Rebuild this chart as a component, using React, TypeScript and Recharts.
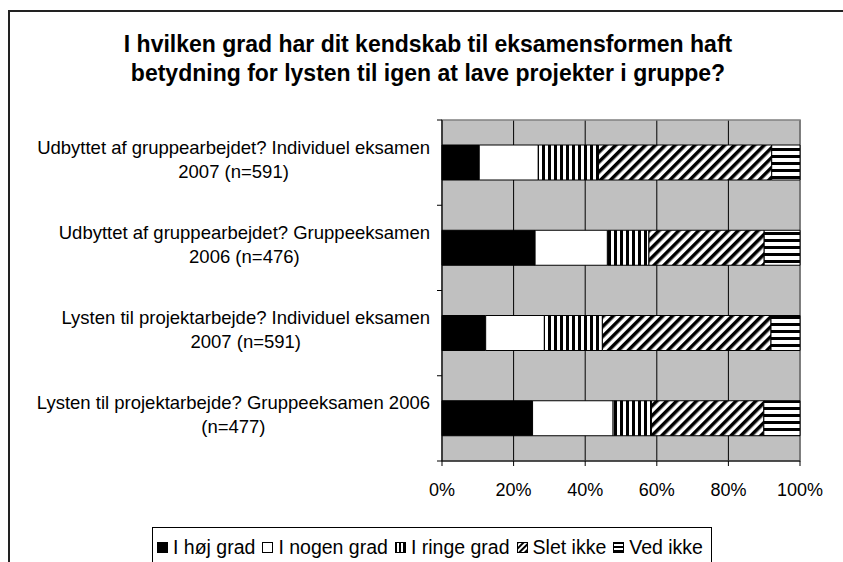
import React from "react";
import {
  BarChart,
  Bar,
  XAxis,
  YAxis,
  CartesianGrid,
  ReferenceArea,
} from "recharts";

if (typeof document !== "undefined") {
  document.documentElement.style.overflow = "hidden";
  document.body.style.overflow = "hidden";
}

const titleLines = [
  "I hvilken grad har dit kendskab til eksamensformen haft",
  "betydning for lysten til igen at lave projekter i gruppe?",
];

const categoryLines: string[][] = [
  ["Udbyttet af gruppearbejdet? Individuel eksamen", "2007 (n=591)"],
  ["Udbyttet af gruppearbejdet? Gruppeeksamen", "2006 (n=476)"],
  ["Lysten til projektarbejde? Individuel eksamen", "2007 (n=591)"],
  ["Lysten til projektarbejde? Gruppeeksamen 2006", "(n=477)"],
];

const seriesNames = ["I høj grad", "I nogen grad", "I ringe grad", "Slet ikke", "Ved ikke"];
const hojGrad = [10.4, 26.0, 12.2, 25.3];
const nogenGrad = [16.5, 20.2, 16.4, 22.5];
const ringeGrad = [16.8, 11.6, 16.2, 10.7];
const sletIkke = [48.4, 32.2, 47.1, 31.4];
const vedIkke = [7.9, 10.0, 8.1, 10.1];
const xTicks = [0, 20, 40, 60, 80, 100];

const seriesValues = [hojGrad, nogenGrad, ringeGrad, sletIkke, vedIkke];
const seriesKeys = ["s0", "s1", "s2", "s3", "s4"];
const seriesFills = [
  "#000000",
  "#ffffff",
  "url(#patVert)",
  "url(#patDiag)",
  "url(#patHoriz)",
];

const data = categoryLines.map((lines, i) => {
  const row: Record<string, any> = { name: lines.join(" ") };
  seriesKeys.forEach((k, j) => {
    row[k] = seriesValues[j][i];
  });
  return row;
});

const PAGE_W = 843;
const PAGE_H = 562;
const W = 835;
const H = 554;
const M = { top: 112, right: 43, bottom: 61, left: 0 };
const Y_AXIS_W = 434;
const X_AXIS_H = 40;
const PLOT_H = H - M.top - M.bottom - X_AXIS_H;
const BAND = PLOT_H / categoryLines.length;

const FONT = '"Liberation Sans", Arial, sans-serif';
const LABEL_FS = 18.5;

let measureCtx: CanvasRenderingContext2D | null = null;
function textWidth(s: string, fs: number): number {
  if (!measureCtx) {
    const c = document.createElement("canvas");
    measureCtx = c.getContext("2d");
  }
  if (!measureCtx) return s.length * fs * 0.5;
  measureCtx.font = `${fs}px "Liberation Sans"`;
  return measureCtx.measureText(s).width;
}

const YTick = (props: any) => {
  const { x, y, index } = props;
  const lines = categoryLines[index] || [];
  const maxW = Math.max(...lines.map((l) => textWidth(l, LABEL_FS)));
  const cx = x - 12 - maxW / 2;
  const topY = y - BAND / 2;
  const botY = y + BAND / 2;
  return (
    <g>
      <line x1={x - 5} x2={x} y1={topY} y2={topY} stroke="#000" strokeWidth={1} />
      {index === categoryLines.length - 1 && (
        <line x1={x - 5} x2={x} y1={botY} y2={botY} stroke="#000" strokeWidth={1} />
      )}
      <text
        x={cx}
        textAnchor="middle"
        fontFamily={FONT}
        fontSize={LABEL_FS}
        fill="#000"
      >
        {lines.map((l, i) => (
          <tspan key={i} x={cx} y={y - 9 + i * 24}>
            {l}
          </tspan>
        ))}
      </text>
    </g>
  );
};

const LegendIcon = ({ fill }: { fill: string }) => (
  <svg width={11} height={11} style={{ display: "block" }}>
    <defs>
      <pattern id="lgVert" width="4" height="4" patternUnits="userSpaceOnUse">
        <rect width="4" height="4" fill="#fff" />
        <rect width="2" height="4" fill="#000" />
      </pattern>
      <pattern id="lgDiag" width="4" height="4" patternUnits="userSpaceOnUse" patternTransform="rotate(45)">
        <rect width="4" height="4" fill="#fff" />
        <rect width="2" height="4" fill="#000" />
      </pattern>
      <pattern id="lgHoriz" width="4" height="4" patternUnits="userSpaceOnUse">
        <rect width="4" height="4" fill="#fff" />
        <rect width="4" height="2" fill="#000" />
      </pattern>
    </defs>
    <rect x={0.5} y={0.5} width={10} height={10} fill={fill.replace("#pat", "#lg")} stroke="#000" strokeWidth={1} />
  </svg>
);

export default function App() {
  return (
    <div
      style={{
        position: "fixed",
        left: 0,
        top: 0,
        width: PAGE_W,
        height: PAGE_H,
        overflow: "hidden",
        background: "#fff",
        fontFamily: FONT,
      }}
    >
      <style>{`svg:focus, svg:focus-visible, .recharts-surface:focus, .recharts-wrapper:focus, *:focus { outline: none !important; }`}</style>
      <div style={{ position: "absolute", left: 8, top: 10, width: PAGE_W - 8, height: 2, background: "#222" }} />
      <div style={{ position: "absolute", left: 8, top: 10, width: 2, height: PAGE_H - 10, background: "#222" }} />
      <div
        style={{
          position: "absolute",
          left: 8,
          top: 30,
          width: 840,
          textAlign: "center",
          fontWeight: "bold",
          fontSize: 23,
          lineHeight: "29px",
          color: "#000",
          whiteSpace: "nowrap",
        }}
      >
        {titleLines.map((t, i) => (
          <div key={i}>{t}</div>
        ))}
      </div>
      <div style={{ position: "absolute", left: 8, top: 8, width: W, height: H }}>
        <BarChart
          width={W}
          height={H}
          data={data}
          layout="vertical"
          margin={M}
          barSize={35}
          accessibilityLayer={false}
        >
          <defs>
            <pattern id="patVert" width="6" height="6" patternUnits="userSpaceOnUse">
              <rect width="6" height="6" fill="#fff" />
              <rect width="3" height="6" fill="#000" />
            </pattern>
            <pattern id="patDiag" width="7" height="7" patternUnits="userSpaceOnUse" patternTransform="rotate(45)">
              <rect width="7" height="7" fill="#fff" />
              <rect width="3.5" height="7" fill="#000" />
            </pattern>
            <pattern id="patHoriz" width="7" height="7" patternUnits="userSpaceOnUse">
              <rect width="7" height="7" fill="#fff" />
              <rect width="7" height="3" fill="#000" />
            </pattern>
          </defs>
          <CartesianGrid
            horizontal={false}
            vertical={true}
            fill="#C0C0C0"
            fillOpacity={1}
            stroke="#000"
            strokeWidth={1}
          />
          <ReferenceArea x1={0} x2={100} fill="none" stroke="#808080" strokeWidth={1.5} />
          <XAxis
            type="number"
            domain={[0, 100]}
            ticks={xTicks}
            tickFormatter={(v: number) => `${v}%`}
            height={X_AXIS_H}
            axisLine={{ stroke: "#000", strokeWidth: 1 }}
            tickLine={{ stroke: "#000", strokeWidth: 1 }}
            tickSize={5}
            tickMargin={17}
            tick={{ fill: "#000", fontSize: 18, fontFamily: FONT }}
            interval={0}
          />
          <YAxis
            type="category"
            dataKey="name"
            width={Y_AXIS_W}
            axisLine={{ stroke: "#000", strokeWidth: 1 }}
            tickLine={false}
            tickSize={0}
            tickMargin={0}
            tick={<YTick />}
            interval={0}
          />
          {seriesKeys.map((k, j) => (
            <Bar
              key={k}
              dataKey={k}
              name={seriesNames[j]}
              stackId="a"
              fill={seriesFills[j]}
              stroke="#000"
              strokeWidth={1}
              isAnimationActive={false}
            />
          ))}
        </BarChart>
      </div>
      <div
        style={{
          position: "absolute",
          left: 152,
          top: 527,
          width: 560,
          height: 60,
          border: "1px solid #000",
          boxSizing: "border-box",
          display: "flex",
          alignItems: "flex-start",
          paddingTop: 7,
          paddingLeft: 4,
          fontSize: 19.5,
          lineHeight: "24px",
          color: "#000",
          whiteSpace: "nowrap",
        }}
      >
        {seriesNames.map((n, j) => (
          <div key={n} style={{ display: "flex", alignItems: "center", marginRight: 7 }}>
            <LegendIcon fill={seriesFills[j]} />
            <span style={{ marginLeft: 5 }}>{n}</span>
          </div>
        ))}
      </div>
    </div>
  );
}
